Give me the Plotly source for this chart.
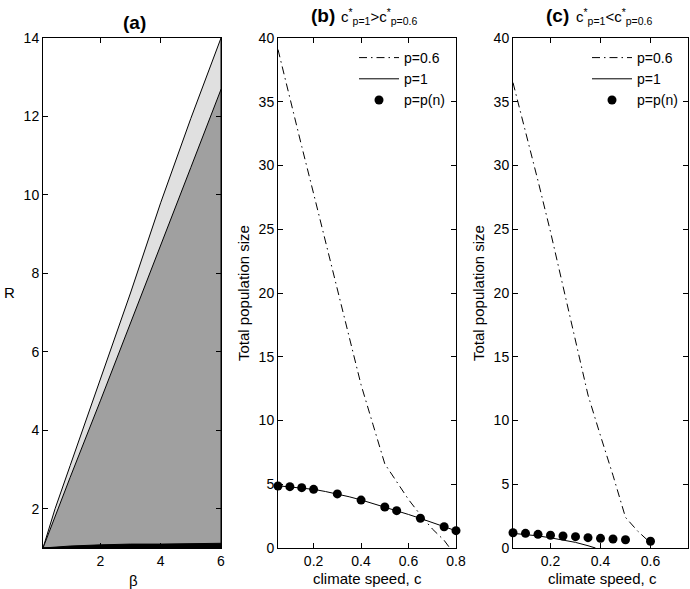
import plotly.graph_objects as go

# ---------------- data ----------------
# panel (a)
beta_upper = [0.1, 0.5, 1, 2, 3, 4, 5, 6]
R_upper = [1.0, 2.0, 3.1, 5.3, 7.5, 9.8, 11.95, 14.0]
beta_mid = [0.1, 0.6, 1, 2, 3, 4, 5, 6]
R_mid = [1.0, 2.02, 2.8, 4.75, 6.72, 8.72, 10.7, 12.69]
beta_band = [0.1, 0.5, 1, 2, 3, 4, 5, 6]
R_band = [1.0, 1.03, 1.05, 1.08, 1.1, 1.1, 1.11, 1.12]
R_MIN = 1.0

# panel (b)
c_b06 = [0.05, 0.1, 0.15, 0.2, 0.25, 0.3, 0.35, 0.4, 0.45, 0.5, 0.55, 0.6, 0.65, 0.7, 0.75, 0.77]
n_b06 = [39.1, 35.2, 31.5, 27.8, 24.0, 20.3, 16.5, 12.8, 9.7, 6.6, 5.2, 3.8, 2.6, 1.5, 0.6, 0.1]
c_b1 = [0.05, 0.1, 0.15, 0.2, 0.25, 0.3, 0.35, 0.4, 0.45, 0.5, 0.55, 0.6, 0.65, 0.7, 0.75, 0.8]
n_b1 = [4.88, 4.8, 4.72, 4.6, 4.43, 4.25, 4.02, 3.77, 3.5, 3.22, 2.93, 2.63, 2.32, 2.0, 1.68, 1.35]
c_bpn = [0.05, 0.1, 0.15, 0.2, 0.3, 0.4, 0.5, 0.55, 0.65, 0.75, 0.8]
n_bpn = [4.86, 4.81, 4.73, 4.6, 4.24, 3.76, 3.22, 2.93, 2.33, 1.67, 1.36]

# panel (c)
c_c06 = [0.05, 0.1, 0.15, 0.2, 0.25, 0.3, 0.35, 0.4, 0.45, 0.5, 0.55, 0.6]
n_c06 = [36.5, 32.7, 28.8, 24.8, 20.6, 16.2, 12.0, 8.8, 5.7, 2.4, 1.3, 0.4]
c_c1 = [0.05, 0.1, 0.15, 0.2, 0.25, 0.3, 0.35, 0.38]
n_c1 = [1.15, 1.06, 0.95, 0.8, 0.64, 0.44, 0.18, 0.0]
c_cpn = [0.05, 0.1, 0.15, 0.2, 0.25, 0.3, 0.35, 0.4, 0.45, 0.5, 0.6]
n_cpn = [1.2, 1.15, 1.07, 1.0, 0.94, 0.89, 0.81, 0.76, 0.71, 0.65, 0.53]

ticks_a_x = [2, 4, 6]
ticks_a_y = [2, 4, 6, 8, 10, 12, 14]
ticks_b_x = [0.2, 0.4, 0.6, 0.8]
ticks_c_x = [0.2, 0.4, 0.6]
ticks_pop = [0, 5, 10, 15, 20, 25, 30, 35, 40]

# ---------------- figure ----------------
W, H = 690, 589
FONT = "Liberation Sans, Arial, sans-serif"
DASHDOT = "8px,4px,1.5px,4px"

fig = go.Figure()

def poly(xs, ys, color, ax):
    px = list(xs) + [xs[-1], xs[0]]
    py = list(ys) + [R_MIN, R_MIN]
    fig.add_trace(go.Scatter(x=px, y=py, fill="toself", fillcolor=color, mode="lines",
                             line=dict(color="black", width=1), showlegend=False,
                             hoverinfo="skip", xaxis=ax[0], yaxis=ax[1]))

poly(beta_upper, R_upper, "#e0e0e0", ("x", "y"))
poly(beta_mid, R_mid, "#a0a0a0", ("x", "y"))
poly(beta_band, R_band, "black", ("x", "y"))

def panel(cs06, ns06, cs1, ns1, csp, nsp, ax, legend):
    fig.add_trace(go.Scatter(x=cs06, y=ns06, mode="lines", name="p=0.6",
                             line=dict(color="black", width=1, dash=DASHDOT),
                             xaxis=ax[0], yaxis=ax[1], legend=legend))
    fig.add_trace(go.Scatter(x=cs1, y=ns1, mode="lines", name="p=1",
                             line=dict(color="black", width=1),
                             xaxis=ax[0], yaxis=ax[1], legend=legend))
    fig.add_trace(go.Scatter(x=csp, y=nsp, mode="markers", name="p=p(n)",
                             marker=dict(color="black", size=9), cliponaxis=False,
                             xaxis=ax[0], yaxis=ax[1], legend=legend))

panel(c_b06, n_b06, c_b1, n_b1, c_bpn, n_bpn, ("x2", "y2"), "legend")
panel(c_c06, n_c06, c_c1, n_c1, c_cpn, n_cpn, ("x3", "y3"), "legend2")

def px2x(p):
    return p / W

def px2y(p):
    return 1 - p / H

ydom = [px2y(548), px2y(38)]
axis_common = dict(showline=True, linecolor="black", linewidth=1, mirror="ticks",
                   ticks="inside", ticklen=5, tickcolor="black", showgrid=False,
                   zeroline=False, automargin=False,
                   tickfont=dict(size=14, color="black", family=FONT))

fig.update_layout(
    width=W, height=H, margin=dict(l=0, r=0, t=0, b=0, pad=0),
    paper_bgcolor="white", plot_bgcolor="white",
    font=dict(family=FONT, color="black"),
    xaxis=dict(domain=[px2x(43), px2x(221)], range=[0.1, 6], tickvals=ticks_a_x, anchor="y", **axis_common),
    yaxis=dict(domain=ydom, range=[1, 14], tickvals=ticks_a_y, anchor="x", **axis_common),
    xaxis2=dict(domain=[px2x(278), px2x(456)], range=[0.05, 0.8], tickvals=ticks_b_x, anchor="y2", **axis_common),
    yaxis2=dict(domain=ydom, range=[0, 40], tickvals=ticks_pop, anchor="x2", **axis_common),
    xaxis3=dict(domain=[px2x(513), px2x(688)], range=[0.05, 0.75], tickvals=ticks_c_x, anchor="y3", **axis_common),
    yaxis3=dict(domain=ydom, range=[0, 40], tickvals=ticks_pop, anchor="x3", **axis_common),
    legend=dict(x=px2x(354), y=px2y(42), xanchor="left", yanchor="top", bgcolor="rgba(0,0,0,0)",
                font=dict(size=14, family=FONT), itemwidth=40, tracegroupgap=0),
    legend2=dict(x=px2x(587), y=px2y(42), xanchor="left", yanchor="top", bgcolor="rgba(0,0,0,0)",
                 font=dict(size=14, family=FONT), itemwidth=40, tracegroupgap=0),
)

def ann(text, xp, yp, size, xanchor="center", yanchor="middle", angle=0):
    fig.add_annotation(text=text, x=px2x(xp), y=px2y(yp), xref="paper", yref="paper",
                       showarrow=False, xanchor=xanchor, yanchor=yanchor, textangle=angle,
                       borderpad=0, font=dict(size=size, family=FONT, color="black"))

# titles
ann("<b>(a)</b>", 134, 22, 19)
ann("<b>(b)</b>", 310, 15, 19, xanchor="left")
ann("c<sup>*</sup><sub>p=1</sub>&gt;c<sup>*</sup><sub>p=0.6</sub>", 340, 16, 15, xanchor="left")
ann("<b>(c)</b>", 545, 15, 19, xanchor="left")
ann("c<sup>*</sup><sub>p=1</sub>&lt;c<sup>*</sup><sub>p=0.6</sub>", 575, 16, 15, xanchor="left")

# axis titles
ann("R", 9, 293, 15)
ann("β", 133, 580, 15)
ann("Total population size", 244, 293, 15, angle=-90)
ann("climate speed, c", 367, 578, 15)
ann("Total population size", 479, 293, 15, angle=-90)
ann("climate speed, c", 602, 578, 15)

fig.write_html(
    "out.html",
    config={"displayModeBar": False},
    post_script=("document.documentElement.style.margin='0px';"
                 "document.body.style.margin='0px';"
                 "document.documentElement.style.overflow='hidden';"
                 "document.body.style.overflow='hidden';"),
)
